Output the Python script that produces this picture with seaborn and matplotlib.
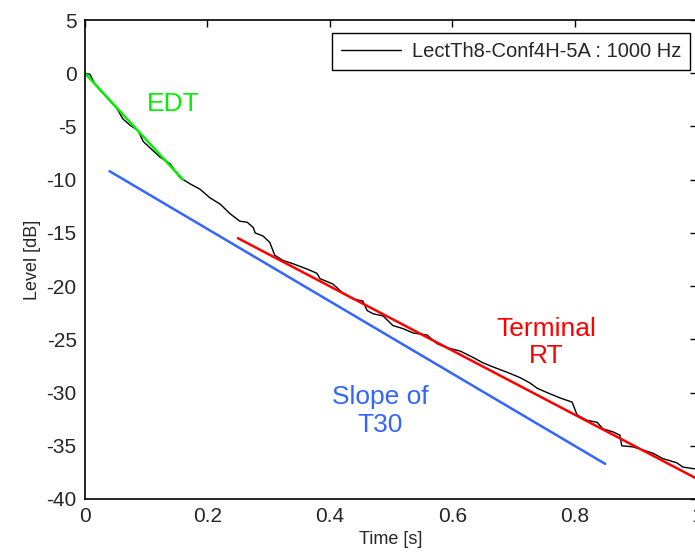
import numpy as np
import pandas as pd
import matplotlib
matplotlib.use('Agg')
import matplotlib.pyplot as plt
import seaborn as sns

# decay curve (time in s, level in dB)
time_s = [0.000, 0.008, 0.016, 0.028, 0.041, 0.052, 0.062, 0.074, 0.087, 0.095,
          0.106, 0.123, 0.139, 0.155, 0.172, 0.188, 0.204, 0.221, 0.237, 0.253,
          0.265, 0.275, 0.278, 0.291, 0.302, 0.310, 0.324, 0.340, 0.363, 0.379,
          0.384, 0.405, 0.422, 0.438, 0.454, 0.461, 0.471, 0.487, 0.503, 0.520,
          0.536, 0.559, 0.575, 0.592, 0.613, 0.634, 0.650, 0.667, 0.690, 0.711,
          0.727, 0.739, 0.755, 0.776, 0.796, 0.804, 0.820, 0.837, 0.846, 0.863,
          0.874, 0.877, 0.895, 0.912, 0.928, 0.944, 0.967, 0.977, 1.000]
level_db = [0.0, -0.1, -1.0, -1.8, -2.6, -3.3, -4.3, -4.9, -5.4, -6.4,
            -7.0, -7.9, -8.5, -9.8, -10.4, -10.9, -11.7, -12.3, -13.2, -13.9,
            -14.0, -14.5, -15.0, -15.3, -15.9, -17.1, -17.6, -17.9, -18.4, -18.8,
            -19.3, -19.8, -20.7, -21.2, -21.4, -22.3, -22.6, -22.8, -23.7, -24.0,
            -24.4, -24.6, -25.4, -25.8, -26.1, -26.7, -27.2, -27.6, -28.1, -28.6,
            -29.1, -29.6, -30.0, -30.5, -30.9, -32.1, -32.6, -32.8, -33.4, -33.7,
            -34.0, -35.0, -35.1, -35.4, -35.7, -36.2, -36.6, -37.0, -37.2]

# fitted slopes (start, end)
edt_t = [0.0, 0.16]
edt_db = [0.0, -10.0]
t30_t = [0.04, 0.85]
t30_db = [-9.2, -36.7]
term_t = [0.25, 1.0]
term_db = [-15.5, -38.1]

legend_label = 'LectTh8-Conf4H-5A : 1000 Hz'
xticks = [0, 0.2, 0.4, 0.6, 0.8, 1.0]
xticklabels = ['0', '0.2', '0.4', '0.6', '0.8', '1']
yticks = list(range(-40, 6, 5))

GREEN = '#00f000'
BLUE = '#3366ff'
RED = '#ff0000'

sns.set_style('white')
plt.rcParams['font.family'] = ['Liberation Sans', 'DejaVu Sans']

fig = plt.figure(figsize=(6.95, 5.56), dpi=100)
ax = fig.add_axes([85 / 695, 57 / 556, 612 / 695, 479 / 556])

decay = pd.DataFrame({'t': time_s, 'L': level_db})
sns.lineplot(data=decay, x='t', y='L', ax=ax, color='black', lw=1.0,
             label=legend_label)
sns.lineplot(x=edt_t, y=edt_db, ax=ax, color=GREEN, lw=1.8, legend=False)
sns.lineplot(x=t30_t, y=t30_db, ax=ax, color=BLUE, lw=1.8, legend=False)
sns.lineplot(x=term_t, y=term_db, ax=ax, color=RED, lw=1.8, legend=False)

ax.text(0.145, -2.9, 'EDT', color=GREEN, fontsize=19, ha='center', va='center')
ax.text(0.753, -25.3, 'Terminal\nRT', color=RED, fontsize=19,
        ha='center', va='center')
ax.text(0.482, -31.7, 'Slope of\nT30', color=BLUE, fontsize=19,
        ha='center', va='center')

ax.set_xlim(0, 1)
ax.set_ylim(-40, 5)
ax.set_xticks(xticks)
ax.set_xticklabels(xticklabels, fontsize=15)
ax.set_yticks(yticks)
ax.set_yticklabels([str(v) for v in yticks], fontsize=15)
ax.tick_params(direction='in', length=5, width=1, top=True, right=True,
               color='black', pad=6)
ax.set_xlabel('Time [s]', fontsize=13, labelpad=3)
ax.set_ylabel('Level [dB]', fontsize=13, labelpad=4)
for sp in ax.spines.values():
    sp.set_color('black')
    sp.set_linewidth(1.2)

leg = ax.legend(loc='upper right', bbox_to_anchor=(690 / 695, 1 - 33 / 556),
                bbox_transform=fig.transFigure, borderaxespad=0, fontsize=14.5,
                fancybox=False, edgecolor='black', framealpha=1,
                handlelength=3.0, handletextpad=0.5, borderpad=0.45)
leg.get_frame().set_linewidth(1.0)

fig.savefig('out.png', dpi=100)
